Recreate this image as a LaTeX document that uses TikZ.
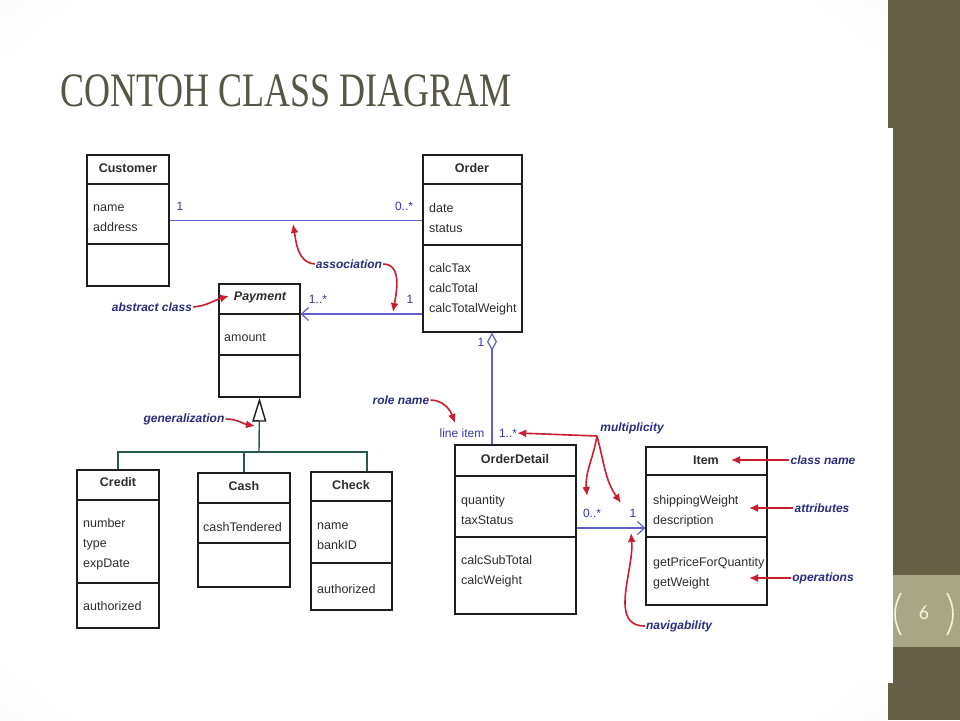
\documentclass[tikz,border=0pt]{standalone}
\usepackage{fontspec}
\setmainfont{Liberation Sans}
\newfontfamily\titlefont{Liberation Serif}
\newfontfamily\pagefont{Carlito}
\usetikzlibrary{arrows.meta,fit,calc}

\definecolor{boxline}{RGB}{30,30,30}
\definecolor{txt}{RGB}{45,45,45}
\definecolor{navyc}{RGB}{40,45,125}
\definecolor{multblue}{RGB}{55,55,170}
\definecolor{lineblue}{RGB}{95,95,205}
\definecolor{greenline}{RGB}{40,90,70}
\definecolor{annred}{RGB}{200,30,45}
\definecolor{bandolive}{RGB}{102,96,70}
\definecolor{pageolive}{RGB}{169,166,133}
\definecolor{creamc}{RGB}{248,242,214}
\definecolor{titlecol}{RGB}{88,86,70}

\pgfdeclareradialshading{slidebg}{\pgfpoint{0bp}{0bp}}{color(0bp)=(white); color(32bp)=(white); color(50bp)=(black!7); color(72bp)=(black!14)}

\tikzset{
  classbox/.style={draw=boxline, line width=1.3pt, fill=white, inner sep=0pt},
  divider/.style={draw=boxline, line width=1.3pt},
  cname/.style={font=\fontsize{12.5}{15}\selectfont\bfseries, text=txt, inner sep=0pt},
  attr/.style={font=\fontsize{12.5}{20}\selectfont, text=txt, align=left, inner sep=0pt, anchor=west, yshift=-2pt},
  note/.style={font=\fontsize{12}{14}\selectfont\bfseries\itshape, text=navyc, inner sep=1pt},
  mult/.style={font=\fontsize{12}{14}\selectfont, text=multblue, inner sep=0pt},
  assoc/.style={draw=lineblue, line width=1.2pt},
  genl/.style={draw=greenline, line width=1.4pt},
  redarrow/.style={draw=annred, line width=1.6pt, -{Latex[length=9pt,width=8pt]}},
}

\newcommand\umlcls[7]{%
  \node[classbox, fit={(#2,#3) (#4,#5)}] (#1) {};
  \coordinate (#1-d1) at (#2,#6);
  \coordinate (#1-d2) at (#2,#7);
  \draw[divider] (#2,#6) -- (#4,#6);
  \draw[divider] (#2,#7) -- (#4,#7);
}

\begin{document}
\begin{tikzpicture}[x=1pt,y=-1pt]
\useasboundingbox (0,0) rectangle (960,720);
% slide background
\shade[shading=slidebg] (0,0) rectangle (888,720);
\fill[bandolive] (888,0) rectangle (960,720);
\fill[white] (25,128) rectangle (893,683);
\fill[pageolive] (893,575) rectangle (960,647);

% title
\node[anchor=base west, font=\titlefont\fontsize{48}{50}\selectfont, text=titlecol, xscale=0.75, inner sep=0pt] (title) at (60,106) {CONTOH CLASS DIAGRAM};

% page number
\draw[creamc, line width=1.6pt] (901,593) .. controls (893,607) and (893,621) .. (901,635);
\draw[creamc, line width=1.6pt] (947,593) .. controls (955,607) and (955,621) .. (947,635);
\node[font=\pagefont\fontsize{20}{22}\selectfont, text=creamc, inner sep=0pt] (pgnum) at (924,613) {6};

% classes
\umlcls{cust}{87}{155}{169}{286}{184}{244}
\umlcls{order}{423}{155}{522}{332}{184}{245}
\umlcls{pay}{219}{284}{300}{397}{314}{355}
\umlcls{credit}{77}{470}{159}{628}{500}{583}
\umlcls{cash}{198}{473}{290}{587}{503}{543}
\umlcls{check}{311}{472}{392}{610}{501}{563}
\umlcls{od}{455}{445}{576}{614}{476}{537}
\umlcls{item}{646}{447}{767}{605}{475}{537}

% class names
\node[cname] (cust-n) at (128,168) {Customer};
\node[cname] (order-n) at (472,168) {Order};
\node[cname, font=\fontsize{12.5}{15}\selectfont\bfseries\itshape] (pay-n) at (260,297) {Payment};
\node[cname] (credit-n) at (118,482) {Credit};
\node[cname] (cash-n) at (244,486) {Cash};
\node[cname] (check-n) at (351,485) {Check};
\node[cname] (od-n) at (515,459) {OrderDetail};
\node[cname] (item-n) at (706,460) {Item};

% attributes / operations
\node[attr] (cust-a) at (93,216) {name\\address};
\node[attr] (order-a) at (429,216) {date\\status};
\node[attr] (order-o) at (429,287) {calcTax\\calcTotal\\calcTotalWeight};
\node[attr] (pay-a) at (224,336) {amount};
\node[attr] (credit-a) at (83,542) {number\\type\\expDate};
\node[attr] (credit-o) at (83,604) {authorized};
\node[attr] (cash-a) at (203,525) {cashTendered};
\node[attr] (check-a) at (317,534) {name\\bankID};
\node[attr] (check-o) at (317,587) {authorized};
\node[attr] (od-a) at (461,508) {quantity\\taxStatus};
\node[attr] (od-o) at (461,569) {calcSubTotal\\calcWeight};
\node[attr] (item-a) at (653,509) {shippingWeight\\description};
\node[attr] (item-o) at (653,571) {getPriceForQuantity\\getWeight};

% associations
\draw[assoc] (cust.east) -- (order.west |- cust.east);
\draw[assoc, {Straight Barb[length=7pt,width=13pt]}-] (pay.east |- pay-d1) -- (order.west |- pay-d1);
\coordinate (aggx) at (492,0);
\draw[assoc, {Diamond[open,length=18pt,width=10pt]}-] (order.south -| aggx) -- (od.north -| aggx);
\coordinate (odrow) at (0,528);
\draw[assoc, -{Straight Barb[length=7pt,width=13pt]}] (od.east |- odrow) -- (item.west |- odrow);

% generalization
\coordinate (gj) at (259,452);
\coordinate (gchk) at (367,452);
\draw[genl] (credit.north) |- (gchk) -- (check.north -| gchk);
\draw[genl] (cash.north) -- (cash.north |- gj);
\draw[genl, -{Triangle[open,length=24pt,width=14pt,color=boxline]}] (gj) -- (pay.south);

% multiplicities and role
\node[mult] (m1) at (180,206) {1};
\node[mult] (m2) at (404,206) {0..*};
\node[mult] (m3) at (318,299) {1..*};
\node[mult] (m4) at (410,299) {1};
\node[mult] (m5) at (481,342) {1};
\node[mult] (rolelbl) at (462,433) {line item};
\node[mult] (m6) at (508,433) {1..*};
\node[mult] (m7) at (592,513) {0..*};
\node[mult] (m8) at (633,513) {1};

% annotations
\node[note] (nAssoc) at (349,264) {association};
\node[note] (nAbs) at (152,307) {abstract class};
\node[note] (nGen) at (184,419) {generalization};
\node[note] (nRole) at (401,400) {role name};
\node[note] (nMult) at (632,428) {multiplicity};
\node[note] (nCls) at (823,460) {class name};
\node[note] (nAttr) at (822,508) {attributes};
\node[note] (nOps) at (823,578) {operations};
\node[note] (nNav) at (679,626) {navigability};

\coordinate (tAssoc1) at (293,224);
\coordinate (tAssoc2) at (393,312);
\coordinate (tAbs) at (229,296);
\coordinate (tGen) at (255,426);
\coordinate (tRole) at (455,423);
\coordinate (hub) at (597,436);
\coordinate (tMult2) at (587,496);
\coordinate (tMult3) at (621,503);
\coordinate (tNav) at (631,533);
\coordinate (tCls) at (731,460);
\coordinate (tAttr) at (749,508);
\coordinate (tOps) at (749,578);

\draw[redarrow] (nAssoc.west) to[out=175,in=-80] (tAssoc1);
\draw[redarrow] (nAssoc.east) to[out=0,in=80] (tAssoc2);
\draw[redarrow] (nAbs.east) to[out=5,in=195] (tAbs);
\draw[redarrow] (nGen.east) to[out=0,in=170] (tGen);
\draw[redarrow] (nRole.east) to[out=0,in=110] (tRole);
\draw[redarrow] (hub) -- (m6.east);
\draw[redarrow] (hub) to[out=-100,in=95] (tMult2);
\draw[redarrow] (hub) to[out=-75,in=125] (tMult3);
\draw[redarrow] (nCls.west) -- (tCls);
\draw[redarrow] (nAttr.west) -- (tAttr);
\draw[redarrow] (nOps.west) -- (tOps);
\draw[redarrow] (nNav.west) to[out=180,in=-85] (tNav);
\end{tikzpicture}
\end{document}
